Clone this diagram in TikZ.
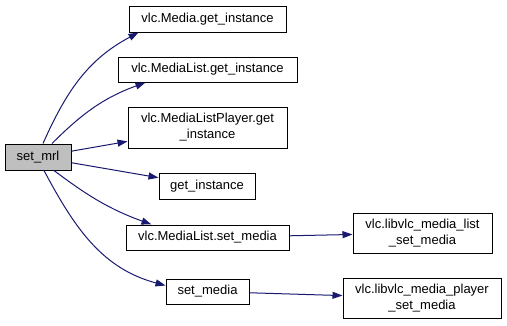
\documentclass[tikz,border=0pt]{standalone}
\usepackage{fontspec}
\setmainfont{Liberation Sans}
\usepackage{tikz}
\usetikzlibrary{arrows.meta}

\definecolor{edgeblue}{HTML}{191970}
\definecolor{rootgray}{HTML}{BFBFBF}

\tikzset{
  func/.style={draw=black, line width=1pt, fill=white, inner sep=1pt, align=center,
    font=\fontsize{13}{16}\selectfont},
  callarrow/.style={draw=edgeblue, line width=1pt,
    -{Triangle[length=10pt,width=7pt,fill=edgeblue]}}
}

\begin{document}
\begin{tikzpicture}[x=1pt,y=1pt]
\useasboundingbox (0,0) rectangle (507,-325);

\node[func, fill=rootgray, minimum width=66pt, minimum height=26pt] (setmrl) at (38,-157) {set\_mrl};

\node[func, minimum width=157pt, minimum height=26pt] (mediaget) at (207.5,-19) {vlc.Media.get\_instance};
\node[func, minimum width=179pt, minimum height=25pt] (listget) at (207.5,-69.5) {vlc.MediaList.get\_instance};
\node[func, minimum width=159pt, minimum height=41pt] (playerget) at (207.5,-127.5) {vlc.MediaListPlayer.get\\\_instance};
\node[func, minimum width=96pt, minimum height=26pt] (getinst) at (207,-186) {get\_instance};
\node[func, minimum width=163pt, minimum height=25pt] (listset) at (207.5,-237.5) {vlc.MediaList.set\_media};
\node[func, minimum width=83pt, minimum height=25pt] (setmedia) at (207.5,-291.5) {set\_media};

\node[func, minimum width=139pt, minimum height=40pt] (liblist) at (422.5,-233) {vlc.libvlc\_media\_list\\\_set\_media};
\node[func, minimum width=158pt, minimum height=40pt] (libplayer) at (422,-298) {vlc.libvlc\_media\_player\\\_set\_media};

% calls out of set_mrl
\draw[callarrow] ([xshift=5pt]setmrl.north) to[out=66,in=208] ([xshift=10pt]mediaget.south west);
\draw[callarrow] ([xshift=14pt]setmrl.north) to[out=45,in=200] ([xshift=28pt]listget.south west);
\draw[callarrow] (setmrl) -- (playerget);
\draw[callarrow] (setmrl) -- (getinst);
\draw[callarrow] ([xshift=16pt]setmrl.south) to[out=-37,in=160] ([xshift=26pt]listset.north west);
\draw[callarrow] ([xshift=6pt]setmrl.south) to[out=-62,in=165] ([yshift=6pt]setmedia.west);

% second level
\draw[callarrow] (listset) -- (liblist);
\draw[callarrow] (setmedia) -- (libplayer);

\end{tikzpicture}
\end{document}
